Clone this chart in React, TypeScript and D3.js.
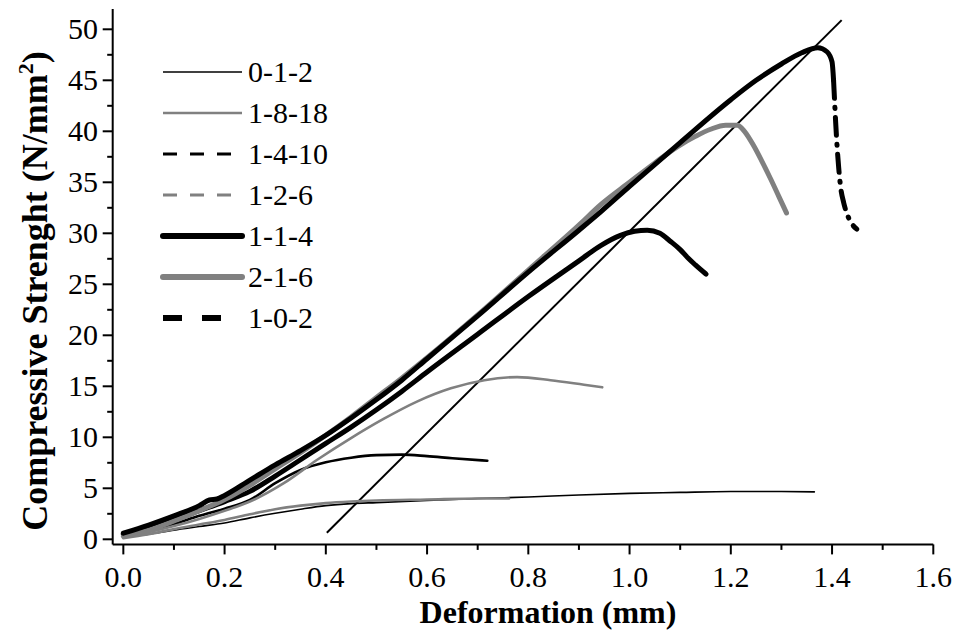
import React from 'react';
import * as d3 from 'd3';

const W = 958;
const H = 631;

const xTicks = [0, 0.2, 0.4, 0.6, 0.8, 1.0, 1.2, 1.4, 1.6];
const xMinor = [0.1, 0.3, 0.5, 0.7, 0.9, 1.1, 1.3, 1.5];
const yTicks = [0, 5, 10, 15, 20, 25, 30, 35, 40, 45, 50];
const yMinor = [2.5, 7.5, 12.5, 17.5, 22.5, 27.5, 32.5, 37.5, 42.5, 47.5];

const seriesNames = ['0-1-2', '1-8-18', '1-4-10', '1-2-6', '1-1-4', '2-1-6', '1-0-2'];

type P = [number, number];

const s012: P[] = [
  [0, 0.2], [0.05, 0.5], [0.1, 0.9], [0.15, 1.25], [0.2, 1.6], [0.25, 2.1], [0.3, 2.55], [0.35, 2.95],
  [0.4, 3.3], [0.45, 3.5], [0.5, 3.6], [0.6, 3.8], [0.7, 4.0], [0.8, 4.15], [0.9, 4.35], [1.0, 4.5],
  [1.1, 4.6], [1.2, 4.68], [1.3, 4.68], [1.365, 4.65],
];
const s1818: P[] = [
  [0, 0.1], [0.05, 0.5], [0.1, 1.0], [0.15, 1.45], [0.2, 1.9], [0.25, 2.45], [0.3, 2.95], [0.35, 3.3],
  [0.4, 3.55], [0.45, 3.7], [0.5, 3.8], [0.6, 3.9], [0.7, 4.0], [0.762, 4.0],
];
const s1410: P[] = [
  [0, 0.3], [0.05, 0.8], [0.1, 1.5], [0.15, 2.3], [0.2, 3.0], [0.25, 3.85], [0.3, 5.5], [0.35, 6.8],
  [0.4, 7.55], [0.45, 8.0], [0.5, 8.25], [0.55, 8.3], [0.6, 8.15], [0.65, 7.95], [0.719, 7.7],
];
const s126: P[] = [
  [0, 0.2], [0.05, 0.7], [0.1, 1.3], [0.15, 2.0], [0.2, 2.8], [0.25, 3.7], [0.317, 5.5], [0.383, 7.8],
  [0.449, 9.9], [0.514, 11.8], [0.58, 13.5], [0.647, 14.8], [0.713, 15.6], [0.778, 15.9],
  [0.844, 15.6], [0.91, 15.15], [0.946, 14.9],
];
const s114: P[] = [
  [0, 0.5], [0.05, 1.1], [0.1, 1.9], [0.15, 2.8], [0.2, 3.7], [0.25, 4.7], [0.3, 6.2], [0.35, 7.8],
  [0.4, 9.4], [0.45, 11.0], [0.5, 12.7], [0.55, 14.5], [0.6, 16.4], [0.7, 20.1], [0.8, 23.8],
  [0.9, 27.3], [0.943, 28.8], [0.982, 29.8], [1.01, 30.2], [1.035, 30.3], [1.06, 30.0],
  [1.081, 29.2], [1.1, 28.4], [1.115, 27.6], [1.13, 26.9], [1.151, 26.0],
];
const s216: P[] = [
  [0, 0.3], [0.05, 0.9], [0.1, 1.8], [0.15, 2.8], [0.2, 3.9], [0.25, 5.3], [0.3, 6.9], [0.35, 8.5],
  [0.4, 10.2], [0.45, 12.0], [0.5, 13.9], [0.55, 15.8], [0.6, 17.8], [0.7, 22.0], [0.8, 26.4],
  [0.9, 30.8], [0.943, 32.8], [1.0, 35.0], [1.05, 36.9], [1.095, 38.5], [1.13, 39.5], [1.16, 40.2],
  [1.19, 40.6], [1.213, 40.6], [1.227, 40.0], [1.245, 38.6], [1.26, 37.2], [1.279, 35.3],
  [1.295, 33.6], [1.31, 32.0],
];
const s102: P[] = [
  [0, 0.6], [0.05, 1.4], [0.1, 2.3], [0.15, 3.3], [0.17, 3.85], [0.185, 3.95], [0.2, 4.3], [0.25, 5.8],
  [0.3, 7.3], [0.35, 8.7], [0.4, 10.2], [0.45, 11.9], [0.5, 13.7], [0.55, 15.6], [0.6, 17.7],
  [0.7, 21.9], [0.8, 26.2], [0.9, 30.3], [0.943, 32.1], [1.0, 34.6], [1.1, 38.9], [1.2, 43.1],
  [1.25, 45.0], [1.3, 46.6], [1.34, 47.7], [1.372, 48.2], [1.39, 47.8], [1.4, 46.8], [1.403, 45.0],
];
const s102tail: P[] = [
  [1.403, 45.0], [1.405, 43.0], [1.407, 41.0], [1.41, 38.5], [1.413, 36.5], [1.417, 34.5],
  [1.423, 33.0], [1.432, 31.6], [1.449, 30.4],
];
const refLine: P[] = [[0.402, 0.65], [1.419, 50.9]];

const seriesData = [s012, s1818, s1410, s126, s114, s216, s102];

const styles = [
  { color: '#000', width: 1.6, legendDash: '', legendEnd: 242 },
  { color: '#808080', width: 2.6, legendDash: '', legendEnd: 242 },
  { color: '#000', width: 2.6, legendDash: '14,13', legendEnd: 242 },
  { color: '#808080', width: 2.6, legendDash: '14,13', legendEnd: 242 },
  { color: '#000', width: 5, legendDash: '', legendEnd: 242 },
  { color: '#808080', width: 5, legendDash: '', legendEnd: 242 },
  { color: '#000', width: 5, legendDash: '19,20', legendEnd: 222 },
];

const FONT = "'Liberation Serif', 'Times New Roman', serif";

export default function App() {
  const x = d3.scaleLinear().domain([-0.021, 1.6]).range([112.7, 933.3]);
  const y = d3.scaleLinear().domain([-0.5, 52]).range([544.4, 8.9]);
  const line = d3.line<P>().x(d => x(d[0])).y(d => y(d[1])).curve(d3.curveMonotoneX);
  const straight = d3.line<P>().x(d => x(d[0])).y(d => y(d[1]));

  const x0 = x.range()[0];
  const y0 = y.range()[0];

  return (
    <svg width={W} height={H} style={{ position: 'absolute', left: 0, top: 0, background: '#fff' }}
      fontFamily={FONT}>
      <rect x={0} y={0} width={W} height={H} fill="#fff" />
      <path d={straight(refLine) || ''} stroke="#000" strokeWidth={2} fill="none" />
      {seriesData.map((d, i) => (
        <path key={i} d={line(d) || ''} stroke={styles[i].color} strokeWidth={styles[i].width}
          fill="none" strokeLinecap="round" strokeLinejoin="round" />
      ))}
      <path d={line(s102tail) || ''} stroke="#000" strokeWidth={5} fill="none"
        strokeDasharray="18,9,1,9" strokeLinecap="round" />
      <line x1={x0} x2={x.range()[1]} y1={y0} y2={y0} stroke="#000" strokeWidth={2} />
      <line x1={x0} x2={x0} y1={y0} y2={y.range()[1]} stroke="#000" strokeWidth={2} />
      {xTicks.map(t => (
        <g key={'xt' + t}>
          <line x1={x(t)} x2={x(t)} y1={y0} y2={y0 + 10} stroke="#000" strokeWidth={2} />
          <text x={x(t)} y={587} textAnchor="middle" fontSize={30}>{t.toFixed(1)}</text>
        </g>
      ))}
      {xMinor.map(t => (
        <line key={'xm' + t} x1={x(t)} x2={x(t)} y1={y0} y2={y0 + 5.5} stroke="#000" strokeWidth={2} />
      ))}
      {yTicks.map(t => (
        <g key={'yt' + t}>
          <line x1={x0} x2={x0 - 10} y1={y(t)} y2={y(t)} stroke="#000" strokeWidth={2} />
          <text x={98} y={y(t) + 10} textAnchor="end" fontSize={30}>{t}</text>
        </g>
      ))}
      {yMinor.map(t => (
        <line key={'ym' + t} x1={x0} x2={x0 - 5.5} y1={y(t)} y2={y(t)} stroke="#000" strokeWidth={2} />
      ))}
      <text x={548} y={623} textAnchor="middle" fontSize={32} fontWeight="bold">Deformation (mm)</text>
      <text transform={`translate(47,${291}) rotate(-90)`} textAnchor="middle" fontSize={36} fontWeight="bold">
        Compressive Strenght (N/mm<tspan dy={-14} fontSize={22}>2</tspan><tspan dy={14}>)</tspan>
      </text>
      {seriesNames.map((n, i) => {
        const cy = 72 + 41 * i;
        const s = styles[i];
        return (
          <g key={n}>
            <line x1={163} x2={s.legendEnd} y1={cy} y2={cy} stroke={s.color}
              strokeWidth={i >= 4 ? 6 : s.width + (s.legendDash ? 0.4 : 0)}
              strokeDasharray={s.legendDash || undefined}
              strokeLinecap={i === 4 || i === 5 ? 'round' : 'butt'} />
            <text x={248} y={cy + 10} fontSize={30}>{n}</text>
          </g>
        );
      })}
    </svg>
  );
}
